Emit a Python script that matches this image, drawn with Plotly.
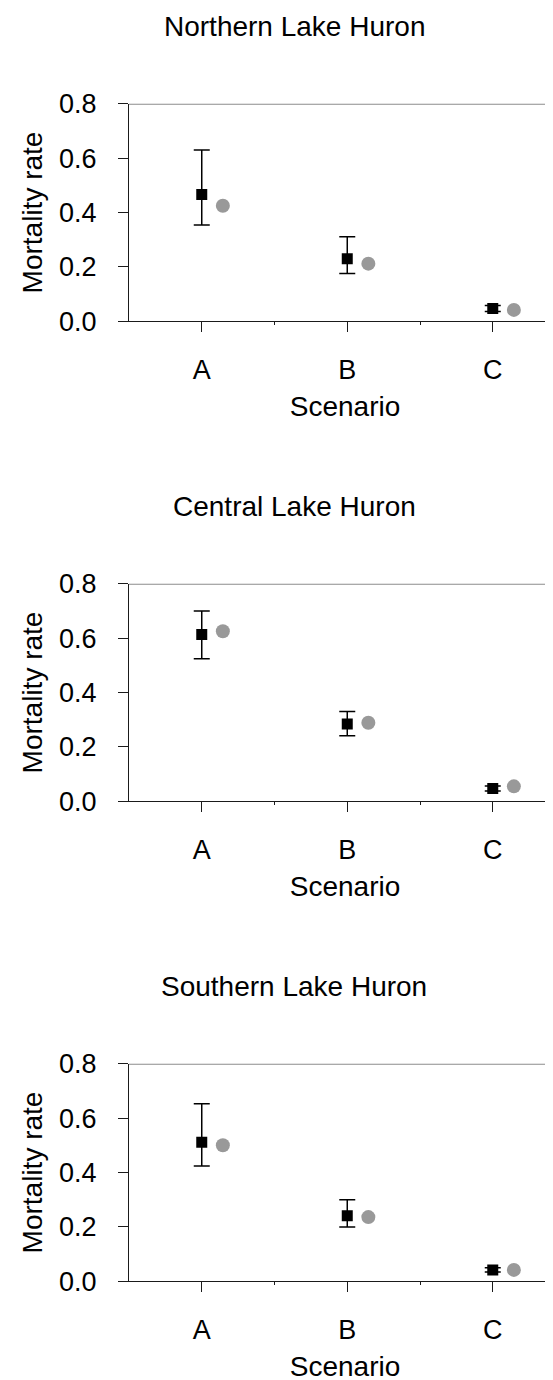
import plotly.graph_objects as go

# ---- data ----
scenarios = ["A", "B", "C"]
panel_titles = ["Northern Lake Huron", "Central Lake Huron", "Southern Lake Huron"]

north_model = [0.466, 0.230, 0.047]
north_upper = [0.630, 0.311, 0.058]
north_lower = [0.354, 0.176, 0.036]
north_obs = [0.425, 0.212, 0.042]

central_model = [0.613, 0.284, 0.047]
central_upper = [0.700, 0.330, 0.056]
central_lower = [0.524, 0.241, 0.038]
central_obs = [0.625, 0.289, 0.055]

south_model = [0.511, 0.241, 0.042]
south_upper = [0.653, 0.300, 0.050]
south_lower = [0.424, 0.200, 0.034]
south_obs = [0.500, 0.236, 0.042]

y_ticks = [0.0, 0.2, 0.4, 0.6, 0.8]

panels = [
    (north_model, north_upper, north_lower, north_obs),
    (central_model, central_upper, central_lower, central_obs),
    (south_model, south_upper, south_lower, south_obs),
]

# ---- layout constants (pixels) ----
W, H = 553, 1380
AX_LEFT = 121
TOPS = [95.7, 575.7, 1055.7]
BOTTOMS = [313.3, 793.3, 1273.3]
OFFSET = 0.145
FONT = "Liberation Sans, Arial, sans-serif"
AXC = "#1a1a1a"

pos = [1, 2, 3]

fig = go.Figure()
layout = dict(
    width=W, height=H, margin=dict(l=0, r=0, t=0, b=0),
    paper_bgcolor="white", plot_bgcolor="white", showlegend=False,
    font=dict(family=FONT, size=27, color="black"),
)
shapes = []
annotations = []

for i, (model, upper, lower, obs) in enumerate(panels):
    sfx = "" if i == 0 else str(i + 1)
    xa, ya = "x" + sfx, "y" + sfx
    plus = [u - m for u, m in zip(upper, model)]
    minus = [m - l for m, l in zip(model, lower)]
    fig.add_trace(go.Scatter(
        x=pos, y=model, mode="markers", xaxis=xa, yaxis=ya,
        marker=dict(symbol="square", size=11, color="black"),
        error_y=dict(type="data", array=plus, arrayminus=minus, color="black",
                     thickness=1.5, width=8),
    ))
    fig.add_trace(go.Scatter(
        x=[p + OFFSET for p in pos], y=obs, mode="markers", xaxis=xa, yaxis=ya,
        marker=dict(symbol="circle", size=14, color="#999999"),
    ))
    ydom = [1 - BOTTOMS[i] / H, 1 - TOPS[i] / H]
    layout["xaxis" + sfx] = dict(
        domain=[AX_LEFT / W, 1], range=[0.5, 3.469], anchor=ya,
        tickmode="array", tickvals=pos, ticktext=scenarios,
        ticks="outside", ticklen=10, tickcolor=AXC, tickwidth=1,
        minor=dict(tickmode="array", tickvals=[1.5, 2.5], ticks="outside", ticklen=3, tickcolor=AXC),
        showline=True, linecolor=AXC, linewidth=1, showgrid=False, zeroline=False,
        ticklabelstandoff=14, automargin=False,
        title=dict(text="Scenario", font=dict(size=28), standoff=12),
        tickfont=dict(size=27),
    )
    layout["yaxis" + sfx] = dict(
        domain=ydom, range=[0, 0.8], anchor=xa,
        tickmode="array", tickvals=y_ticks, ticktext=[f"{v:.1f}" for v in y_ticks],
        ticks="outside", ticklen=10, tickcolor=AXC, tickwidth=1,
        showline=True, linecolor=AXC, linewidth=1, showgrid=False, zeroline=False,
        ticklabelstandoff=16, automargin=False,
        title=dict(text="Mortality rate", font=dict(size=28), standoff=8),
        tickfont=dict(size=27),
    )
    shapes.append(dict(type="line", xref=xa + " domain", yref=ya, x0=0, x1=1, y0=0.8, y1=0.8,
                       line=dict(color="#8c8c8c", width=2)))
    annotations.append(dict(text=panel_titles[i], xref="paper", yref="paper",
                            x=286 / W, y=1 - (TOPS[i] - 77) / H, xanchor="center", yanchor="middle",
                            showarrow=False, font=dict(size=28)))

layout["shapes"] = shapes
layout["annotations"] = annotations
fig.update_layout(**layout)
fig.write_html("out.html")
